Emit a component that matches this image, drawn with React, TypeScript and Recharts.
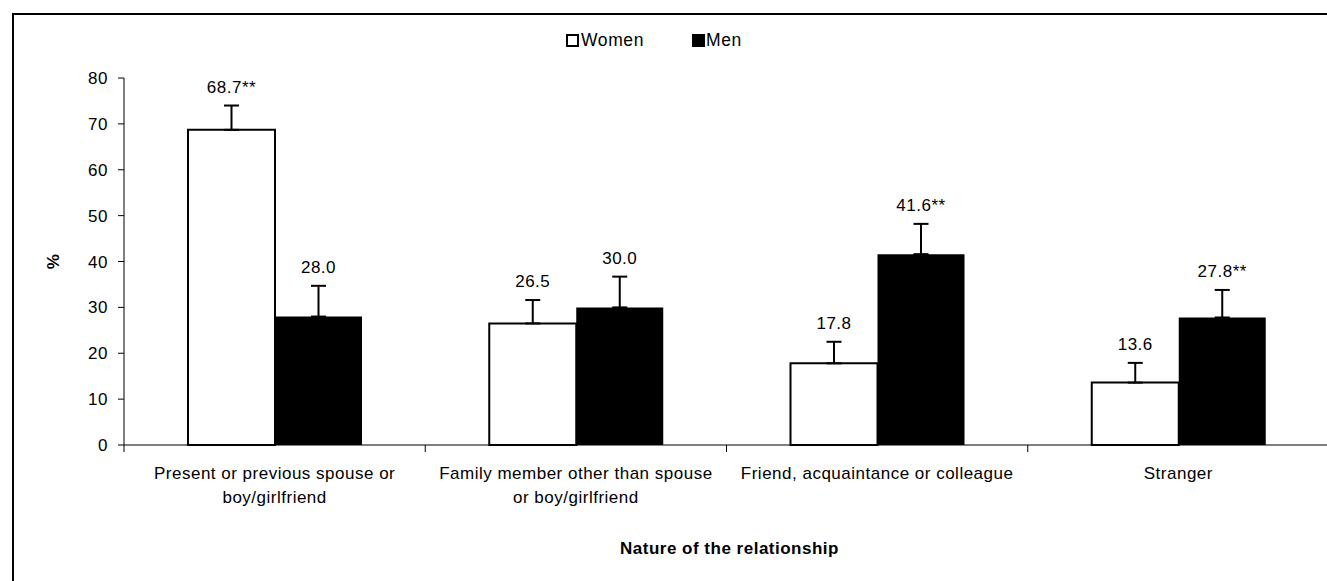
import React from 'react';
import { BarChart, Bar, XAxis, YAxis, ErrorBar, LabelList } from 'recharts';

const categories = [
    'Present or previous spouse or\nboy/girlfriend',
    'Family member other than spouse\nor boy/girlfriend',
    'Friend, acquaintance or colleague',
    'Stranger',
];
const women = [68.7, 26.5, 17.8, 13.6];
const men = [28.0, 30.0, 41.6, 27.8];
const womenErr = [5.3, 5.1, 4.7, 4.3];
const menErr = [6.7, 6.7, 6.6, 6.0];
const womenLabels = ['68.7**', '26.5', '17.8', '13.6'];
const menLabels = ['28.0', '30.0', '41.6**', '27.8**'];
const yTicks = [0, 10, 20, 30, 40, 50, 60, 70, 80];

const FONT = '"Liberation Sans", Arial, sans-serif';
const CHART_W = 1331;
const Y_AXIS_W = 124;
const RIGHT = 2;
const PLOT_W = CHART_W - Y_AXIS_W - RIGHT;

const data = categories.map((c, i) => ({
    category: c,
    women: women[i],
    men: men[i],
    womenErr: [0, womenErr[i]],
    menErr: [0, menErr[i]],
    womenLabel: womenLabels[i],
    menLabel: menLabels[i],
}));

const textStyle = { fontFamily: FONT, fontSize: 17, letterSpacing: 0.5, fill: '#000' };

const makeValueLabel = (labels: string[], values: number[], errs: number[]) => (props: any) => {
    const vb = props.viewBox || props;
    const { x, y, width, height } = vb;
    const idx = props.index ?? labels.indexOf(props.value);
    const pxPerUnit = height / values[idx];
    const top = y - errs[idx] * pxPerUnit;
    return (
        <text x={x + width / 2} y={top - 13} textAnchor="middle" style={textStyle}>
            {labels[idx]}
        </text>
    );
};

const CategoryTick = (props: any) => {
    const { x, y, payload, index } = props;
    const lines = String(payload.value).split('\n');
    const half = PLOT_W / categories.length / 2;
    const axisY = y - 7;
    return (
        <g>
            <line x1={x - half} x2={x - half} y1={axisY} y2={axisY + 7} stroke="#000" />
            {index === categories.length - 1 && (
                <line x1={x + half} x2={x + half} y1={axisY} y2={axisY + 7} stroke="#000" />
            )}
            <text textAnchor="middle" style={textStyle}>
                {lines.map((l, i) => (
                    <tspan key={i} x={x} y={y + 27 + i * 24}>
                        {l}
                    </tspan>
                ))}
            </text>
        </g>
    );
};

export default function App() {
    return (
        <div
            style={{
                position: 'absolute',
                left: 0,
                top: 0,
                width: 1327,
                height: 581,
                overflow: 'hidden',
                background: '#fff',
                fontFamily: FONT,
            }}
        >
            <div
                style={{
                    position: 'absolute',
                    left: 12,
                    top: 13,
                    width: 1400,
                    height: 700,
                    borderTop: '2px solid #000',
                    borderLeft: '2px solid #000',
                }}
            />
            <div
                style={{
                    position: 'absolute',
                    left: 566,
                    top: 30,
                    display: 'flex',
                    alignItems: 'center',
                    fontSize: 17.5,
                    letterSpacing: 0.6,
                    color: '#000',
                    whiteSpace: 'nowrap',
                }}
            >
                <span style={{ width: 13, height: 13, boxSizing: 'border-box', border: '2px solid #000', background: '#fff', display: 'inline-block' }} />
                <span style={{ marginLeft: 2, marginRight: 48 }}>Women</span>
                <span style={{ width: 13, height: 13, background: '#000', display: 'inline-block' }} />
                <span style={{ marginLeft: 1 }}>Men</span>
            </div>
            <div style={{ position: 'absolute', left: 0, top: 0 }}>
                <BarChart
                    width={CHART_W}
                    height={581}
                    data={data}
                    margin={{ top: 78, right: RIGHT, bottom: 0, left: 0 }}
                    barGap={0}
                >
                    <XAxis
                        dataKey="category"
                        height={136}
                        axisLine={{ stroke: '#000' }}
                        tickLine={false}
                        tickSize={7}
                        tickMargin={0}
                        interval={0}
                        tick={<CategoryTick />}
                        label={{
                            content: (p: any) => {
                                const vb = p.viewBox;
                                return (
                                    <text
                                        x={vb.x + vb.width / 2 + 3}
                                        y={vb.y + 109}
                                        textAnchor="middle"
                                        style={{ ...textStyle, fontWeight: 'bold' }}
                                    >
                                        Nature of the relationship
                                    </text>
                                );
                            },
                        }}
                    />
                    <YAxis
                        width={Y_AXIS_W}
                        domain={[0, 80]}
                        ticks={yTicks}
                        interval={0}
                        axisLine={{ stroke: '#000' }}
                        tickLine={{ stroke: '#000' }}
                        tickSize={6}
                        tickMargin={10}
                        tick={textStyle}
                        label={{
                            content: (p: any) => {
                                const vb = p.viewBox;
                                const cy = vb.y + vb.height / 2;
                                return (
                                    <text
                                        x={53}
                                        y={cy}
                                        transform={`rotate(-90 53 ${cy})`}
                                        textAnchor="middle"
                                        dominantBaseline="central"
                                        style={{ ...textStyle, fontWeight: 'bold' }}
                                    >
                                        %
                                    </text>
                                );
                            },
                        }}
                    />
                    <Bar dataKey="women" barSize={87} fill="#fff" stroke="#000" strokeWidth={2} isAnimationActive={false}>
                        <ErrorBar dataKey="womenErr" width={7.5} stroke="#000" strokeWidth={2} direction="y" />
                        <LabelList dataKey="womenLabel" content={makeValueLabel(womenLabels, women, womenErr)} />
                    </Bar>
                    <Bar dataKey="men" barSize={87} fill="#000" isAnimationActive={false}>
                        <ErrorBar dataKey="menErr" width={7.5} stroke="#000" strokeWidth={2} direction="y" />
                        <LabelList dataKey="menLabel" content={makeValueLabel(menLabels, men, menErr)} />
                    </Bar>
                </BarChart>
            </div>
        </div>
    );
}
